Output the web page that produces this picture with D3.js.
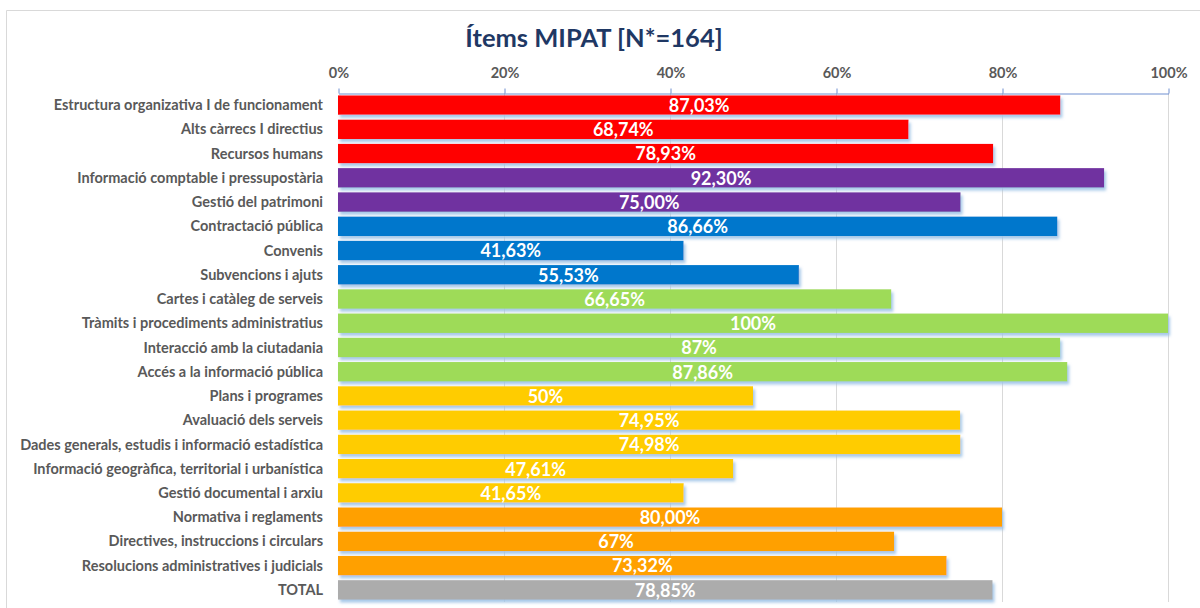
<!DOCTYPE html>
<html lang="ca">
<head>
  <meta charset="utf-8">
  <title>Ítems MIPAT</title>
  <style>
    body { margin: 0; background: #fff; }
    svg text { font-family: Lato, "Open Sans", sans-serif; }
  </style>
</head>
<body>
  <script src="https://cdnjs.cloudflare.com/ajax/libs/d3/7.8.5/d3.min.js"></script>
  <script>
  const categories = [
    "Estructura organizativa I de funcionament",
    "Alts càrrecs I directius",
    "Recursos humans",
    "Informació comptable i pressupostària",
    "Gestió del patrimoni",
    "Contractació pública",
    "Convenis",
    "Subvencions i ajuts",
    "Cartes i catàleg de serveis",
    "Tràmits i procediments administratius",
    "Interacció amb la ciutadania",
    "Accés a la informació pública",
    "Plans i programes",
    "Avaluació dels serveis",
    "Dades generals, estudis i informació estadística",
    "Informació geogràfica, territorial i urbanística",
    "Gestió documental i arxiu",
    "Normativa i reglaments",
    "Directives, instruccions i circulars",
    "Resolucions administratives i judicials",
    "TOTAL"
  ];
  const values = [87.03, 68.74, 78.93, 92.30, 75.00, 86.66, 41.63, 55.53, 66.65, 100,
                  87, 87.86, 50, 74.95, 74.98, 47.61, 41.65, 80.00, 67, 73.32, 78.85];
  const valueLabels = ["87,03%", "68,74%", "78,93%", "92,30%", "75,00%", "86,66%", "41,63%",
                       "55,53%", "66,65%", "100%", "87%", "87,86%", "50%", "74,95%", "74,98%",
                       "47,61%", "41,65%", "80,00%", "67%", "73,32%", "78,85%"];
  const groups = ["org", "org", "org", "eco", "eco", "contr", "contr", "contr",
                  "serv", "serv", "serv", "serv", "info", "info", "info", "info", "info",
                  "norm", "norm", "norm", "total"];
  const ticks = [0, 20, 40, 60, 80, 100];

  const width = 1200, height = 608;
  const margin = { top: 93, right: 32, bottom: 6, left: 338 };

  const svg = d3.select("body").append("svg")
    .attr("width", width)
    .attr("height", height);

  const defs = svg.append("defs");
  defs.append("filter")
    .attr("id", "shadow")
    .attr("x", "-5%").attr("y", "-30%")
    .attr("width", "110%").attr("height", "180%")
    .append("feDropShadow")
    .attr("dx", 2).attr("dy", 3)
    .attr("stdDeviation", 1.4)
    .attr("flood-color", "#9dc3e6")
    .attr("flood-opacity", 0.9);

  // chart frame (only top and left edges visible)
  svg.append("path")
    .attr("d", "M6.5,608 V10.5 H1200")
    .attr("fill", "none")
    .attr("stroke", "#d9d9d9")
    .attr("stroke-width", 1);

  svg.append("text")
    .attr("x", 594)
    .attr("y", 47)
    .attr("text-anchor", "middle")
    .attr("font-size", 25.5)
    .attr("font-weight", "bold")
    .attr("fill", "#1f3864")
    .text("Ítems MIPAT [N*=164]");

  const x = d3.scaleLinear()
    .domain([0, 100])
    .range([margin.left, width - margin.right]);

  const y = d3.scaleBand()
    .domain(categories)
    .range([margin.top, height - margin.bottom])
    .paddingInner(0.2)
    .paddingOuter(0.1);

  const color = d3.scaleOrdinal()
    .domain(["org", "eco", "contr", "serv", "info", "norm", "total"])
    .range(["#ff0000", "#7030a0", "#0077cc", "#9edb58", "#ffcc00", "#ffa000", "#acacac"]);

  // gridlines
  svg.append("g")
    .selectAll("line")
    .data(ticks.slice(1))
    .join("line")
    .attr("x1", d => x(d) + 0.5)
    .attr("x2", d => x(d) + 0.5)
    .attr("y1", margin.top)
    .attr("y2", height - margin.bottom)
    .attr("stroke", "#d9d9d9");

  // top axis
  const xAxis = d3.axisTop(x)
    .tickValues(ticks)
    .tickFormat(d => d + "%")
    .tickSize(5)
    .tickSizeOuter(0);

  const axisG = svg.append("g")
    .attr("transform", `translate(0.5,${margin.top + 0.5})`)
    .call(xAxis);
  axisG.select(".domain").attr("stroke", "#6f8fd0");
  axisG.selectAll(".tick line").attr("stroke", "#6f8fd0");
  axisG.selectAll(".tick text")
    .attr("y", -16)
    .attr("font-size", 14.5)
    .attr("font-weight", "bold")
    .attr("fill", "#595959")
    .style("font-family", "Lato, sans-serif");

  // category labels
  svg.append("g")
    .selectAll("text")
    .data(categories)
    .join("text")
    .attr("x", 323)
    .attr("y", d => y(d) + y.bandwidth() / 2)
    .attr("dy", "0.35em")
    .attr("text-anchor", "end")
    .attr("font-size", 14.5)
    .attr("font-weight", "bold")
    .attr("fill", "#595959")
    .text(d => d);

  // bars
  svg.append("g")
    .selectAll("rect")
    .data(categories)
    .join("rect")
    .attr("x", x(0))
    .attr("y", d => y(d))
    .attr("width", (d, i) => x(values[i]) - x(0))
    .attr("height", y.bandwidth())
    .attr("fill", (d, i) => color(groups[i]))
    .attr("filter", "url(#shadow)");

  // value labels
  svg.append("g")
    .selectAll("text")
    .data(categories)
    .join("text")
    .attr("x", (d, i) => (x(0) + x(values[i])) / 2)
    .attr("y", d => y(d) + y.bandwidth() / 2)
    .attr("dy", "0.38em")
    .attr("text-anchor", "middle")
    .attr("font-size", 18)
    .attr("font-weight", "bold")
    .attr("fill", "#fff")
    .text((d, i) => valueLabels[i]);
  </script>
</body>
</html>
